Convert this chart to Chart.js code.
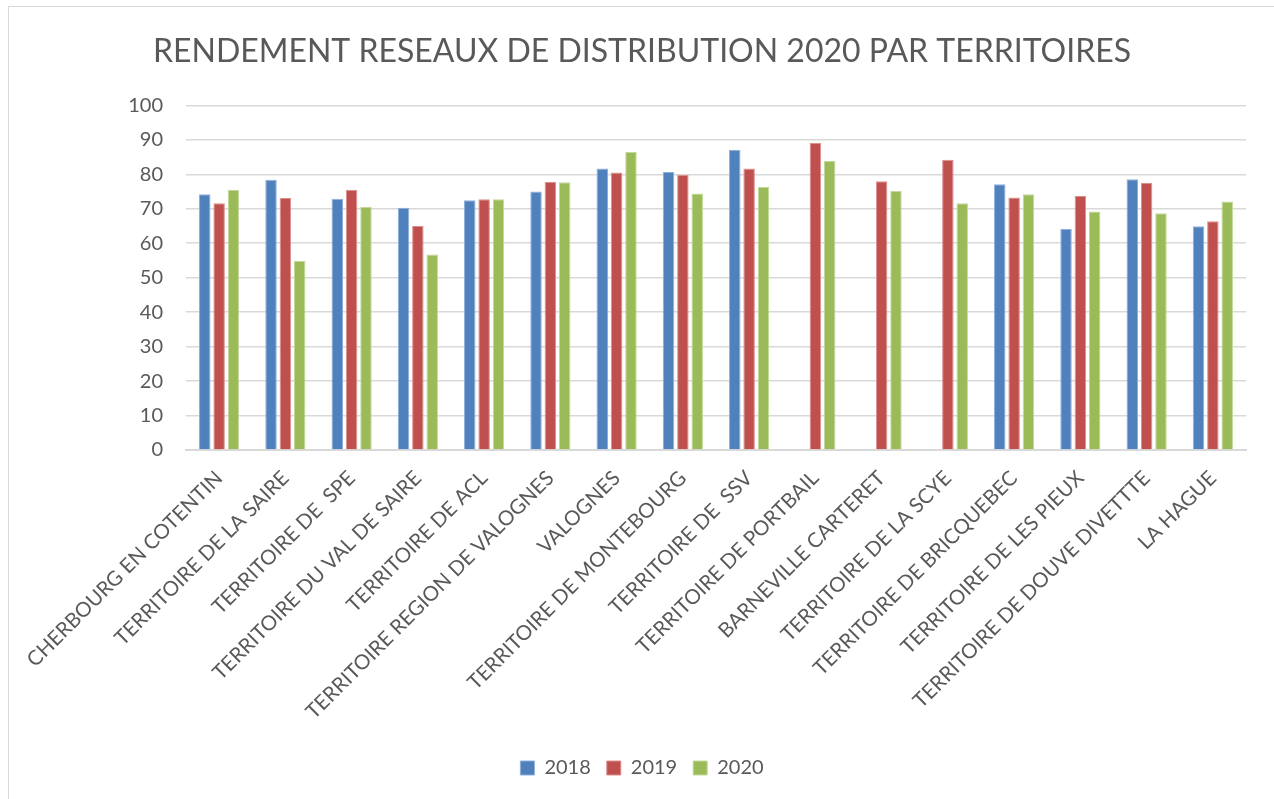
<!DOCTYPE html>
<html><head><meta charset="utf-8">
<script src="https://cdn.jsdelivr.net/npm/chart.js@4"></script>
<style>
html,body{margin:0;padding:0;background:#fff;overflow:hidden;}
#frame{position:absolute;left:8px;top:6px;width:1400px;height:900px;border:1px solid #d9d9d9;box-sizing:border-box;}
#wrap{position:absolute;left:0;top:0;width:1274px;height:799px;}
</style></head>
<body>
<div id="frame"></div>
<div id="wrap"><canvas id="c" width="1274" height="799"></canvas></div>
<script>
const categories = [
  "CHERBOURG EN COTENTIN","TERRITOIRE DE LA SAIRE","TERRITOIRE DE  SPE","TERRITOIRE DU VAL DE SAIRE",
  "TERRITOIRE DE ACL","TERRITOIRE REGION DE VALOGNES","VALOGNES","TERRITOIRE DE MONTEBOURG",
  "TERRITOIRE DE  SSV","TERRITOIRE DE PORTBAIL","BARNEVILLE CARTERET","TERRITOIRE DE LA SCYE",
  "TERRITOIRE DE BRICQUEBEC","TERRITOIRE DE LES PIEUX","TERRITOIRE DE DOUVE DIVETTTE","LA HAGUE"
];
const seriesNames = ["2018","2019","2020"];
const values2018 = [74.2,78.4,72.9,70.3,72.5,75.0,81.7,80.7,87.1,null,null,null,77.1,64.1,78.6,64.9];
const values2019 = [71.6,73.1,75.5,65.0,72.8,77.8,80.5,79.8,81.7,89.1,78.0,84.2,73.3,73.7,77.5,66.4];
const values2020 = [75.5,54.9,70.5,56.7,72.8,77.7,86.5,74.4,76.3,83.9,75.2,71.6,74.2,69.2,68.7,72.1];
const yTicks = [0,10,20,30,40,50,60,70,80,90,100];

const colors = ["#4F81BD","#C0504D","#9BBB59"];
const borders = ["#8EAEDB","#DC8F8D","#C3D99A"];
const txt = "#595959";
const FONT = "Lato";

new Chart(document.getElementById("c"), {
  type: "bar",
  data: {
    labels: categories,
    datasets: [values2018, values2019, values2020].map((v, i) => ({
      label: seriesNames[i],
      data: v,
      backgroundColor: colors[i],
      borderColor: borders[i],
      borderWidth: 1,
      categoryPercentage: 0.65,
      barPercentage: 0.8
    }))
  },
  options: {
    responsive: false,
    animation: false,
    layout: { padding: { left: 38, right: 28, top: 0, bottom: 11 } },
    plugins: {
      title: {
        display: true,
        text: "RENDEMENT RESEAUX DE DISTRIBUTION 2020 PAR TERRITOIRES",
        color: txt,
        font: { family: FONT, size: 32, weight: "normal" },
        padding: { top: 32, bottom: 35 }
      },
      legend: {
        position: "bottom",
        labels: {
          color: txt,
          font: { family: FONT, size: 20 },
          boxWidth: 14, boxHeight: 14,
          padding: 16
        }
      },
      tooltip: { enabled: false }
    },
    scales: {
      x: {
        grid: { display: false, drawTicks: false },
        border: { display: true, color: "#d9d9d9", width: 2 },
        ticks: {
          color: txt, font: { family: FONT, size: 20.5 },
          autoSkip: false, minRotation: 45, maxRotation: 45, padding: 16
        },
        afterFit: (s) => { s.height = 292; }
      },
      y: {
        min: 0, max: 100,
        afterBuildTicks: (s) => { s.ticks = yTicks.map(v => ({ value: v })); },
        grid: { color: "#d9d9d9", lineWidth: 1.5, drawTicks: false },
        border: { display: false },
        ticks: { color: txt, font: { family: FONT, size: 20 }, padding: 23 },
        afterFit: (s) => { s.width = 148; }
      }
    }
  }
});
</script>
</body></html>
